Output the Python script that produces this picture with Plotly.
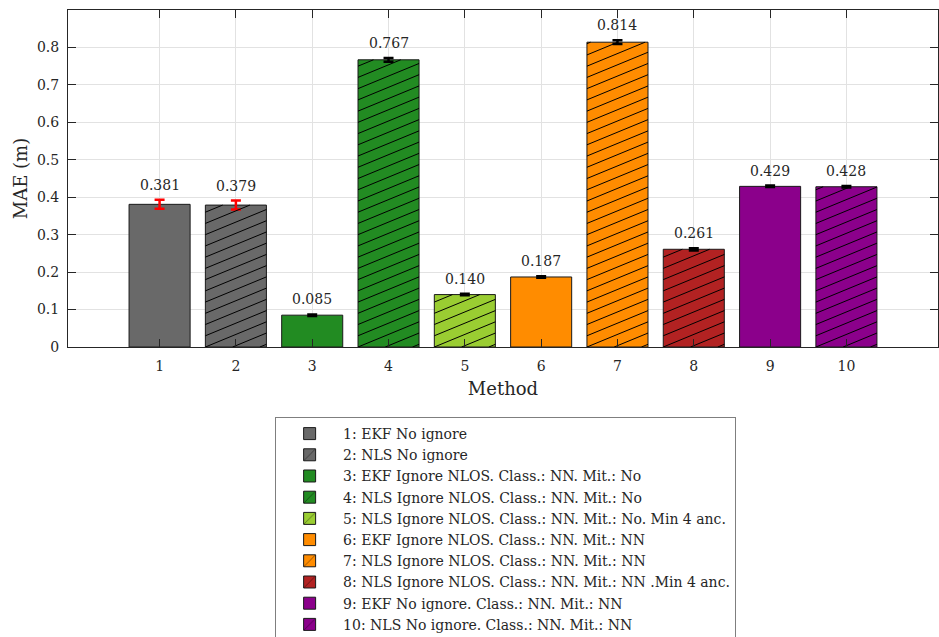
import numpy as np
import plotly.graph_objects as go

# ---------------- data ----------------
methods = [1, 2, 3, 4, 5, 6, 7, 8, 9, 10]
mae = [0.381, 0.379, 0.085, 0.767, 0.140, 0.187, 0.814, 0.261, 0.429, 0.428]
mae_err = [0.012, 0.012, 0.002, 0.005, 0.002, 0.002, 0.005, 0.003, 0.002, 0.002]
bar_colors = ["#696969", "#696969", "#228B22", "#228B22", "#9ACD32",
              "#FF8C00", "#FF8C00", "#B22222", "#8B008B", "#8B008B"]
err_colors = ["#FF0000", "#FF0000", "#000000", "#000000", "#000000",
              "#000000", "#000000", "#000000", "#000000", "#000000"]
hatched = [False, True, False, True, True, False, True, True, False, True]
labels = [
    "1: EKF No ignore",
    "2: NLS No ignore",
    "3: EKF Ignore NLOS. Class.: NN. Mit.: No",
    "4: NLS Ignore NLOS. Class.: NN. Mit.: No",
    "5: NLS Ignore NLOS. Class.: NN. Mit.: No. Min 4 anc.",
    "6: EKF Ignore NLOS. Class.: NN. Mit.: NN",
    "7: NLS Ignore NLOS. Class.: NN. Mit.: NN",
    "8: NLS Ignore NLOS. Class.: NN. Mit.: NN .Min 4 anc.",
    "9: EKF No ignore. Class.: NN. Mit.: NN",
    "10: NLS No ignore. Class.: NN. Mit.: NN",
]
ytick_vals = [0, 0.1, 0.2, 0.3, 0.4, 0.5, 0.6, 0.7, 0.8]
ytick_text = ["0", "0.1", "0.2", "0.3", "0.4", "0.5", "0.6", "0.7", "0.8"]
xtick_text = ["1", "2", "3", "4", "5", "6", "7", "8", "9", "10"]

# ---------------- style ----------------
BAR_W = 0.8
HATCH_SLOPE = 0.084   # data-y per data-x
HATCH_STEP = 0.030    # vertical spacing in data-y
FONT = "DejaVu Serif"
TXT = "#262626"
AXIS_COLOR = "#262626"
GRID_COLOR = "#e2e2e2"

fig = go.Figure()

# bars with error bars
for m, v, e, c, ec in zip(methods, mae, mae_err, bar_colors, err_colors):
    fig.add_trace(go.Bar(
        x=[m], y=[v], width=BAR_W,
        marker=dict(color=c, line=dict(color="#1a1a1a", width=1)),
        error_y=dict(type="data", array=[e], color=ec, thickness=2.5, width=5),
        showlegend=False, hoverinfo="skip",
    ))

# hatch lines computed from the bar geometry
for m, v, h in zip(methods, mae, hatched):
    if not h:
        continue
    xl, xr = m - BAR_W / 2, m + BAR_W / 2
    w = xr - xl
    xs, ys = [], []
    kmin = int(np.floor(-HATCH_SLOPE * w / HATCH_STEP))
    kmax = int(np.ceil(v / HATCH_STEP))
    for k in range(kmin, kmax + 1):
        c0 = k * HATCH_STEP  # y at left edge
        xa = xl if c0 >= 0 else xl + (0 - c0) / HATCH_SLOPE
        xb = xr if c0 + HATCH_SLOPE * w <= v else xl + (v - c0) / HATCH_SLOPE
        if xb <= xa:
            continue
        xs += [xa, xb, None]
        ys += [c0 + HATCH_SLOPE * (xa - xl), c0 + HATCH_SLOPE * (xb - xl), None]
    fig.add_trace(go.Scatter(x=xs, y=ys, mode="lines",
                             line=dict(color="black", width=1),
                             showlegend=False, hoverinfo="skip"))

# legend entries
for lab, c, h in zip(labels, bar_colors, hatched):
    fig.add_trace(go.Bar(
        x=[None], y=[None], name=lab,
        marker=dict(color=c, line=dict(color="#1a1a1a", width=1),
                    pattern=dict(shape="/" if h else "", size=12,
                                 solidity=0.1, fgcolor="black")),
        showlegend=True,
    ))

# value labels
for m, v, e in zip(methods, mae, mae_err):
    fig.add_annotation(x=m, y=v + e, text=f"{v:.3f}", showarrow=False,
                       yanchor="bottom", yshift=5,
                       font=dict(family=FONT, size=14, color=TXT))

fig.update_layout(
    width=939, height=637,
    margin=dict(l=68, r=1, t=10, b=290, autoexpand=False),
    barmode="overlay",
    plot_bgcolor="white", paper_bgcolor="white",
    font=dict(family=FONT, size=14, color=TXT),
    showlegend=True,
    legend=dict(x=0.503, xanchor="center", y=-0.2077, yanchor="top",
                bordercolor="#7f7f7f", borderwidth=1, bgcolor="white",
                font=dict(family=FONT, size=14, color=TXT),
                itemwidth=57,
                traceorder="normal"),
    xaxis=dict(range=[-0.2, 11.2], tickvals=methods, ticktext=xtick_text,
               ticks="inside", ticklen=8, tickcolor=AXIS_COLOR,
               showline=True, linecolor=AXIS_COLOR, linewidth=1, mirror="ticks",
               showgrid=True, gridcolor=GRID_COLOR, zeroline=False,
               ticklabelstandoff=6,
               title=dict(text="Method", font=dict(family=FONT, size=18), standoff=9),
               tickfont=dict(family=FONT, size=14)),
    yaxis=dict(range=[0, 0.9], tickvals=ytick_vals, ticktext=ytick_text,
               ticks="inside", ticklen=8, tickcolor=AXIS_COLOR,
               showline=True, linecolor=AXIS_COLOR, linewidth=1, mirror="ticks",
               showgrid=True, gridcolor=GRID_COLOR, zeroline=False,
               ticklabelstandoff=5,
               title=dict(text="MAE (m)", font=dict(family=FONT, size=18), standoff=4),
               tickfont=dict(family=FONT, size=14)),
)

fig.write_html(
    "out.html",
    config={"displayModeBar": False},
    post_script="document.body.style.margin='0';document.body.style.overflow='hidden';",
)
